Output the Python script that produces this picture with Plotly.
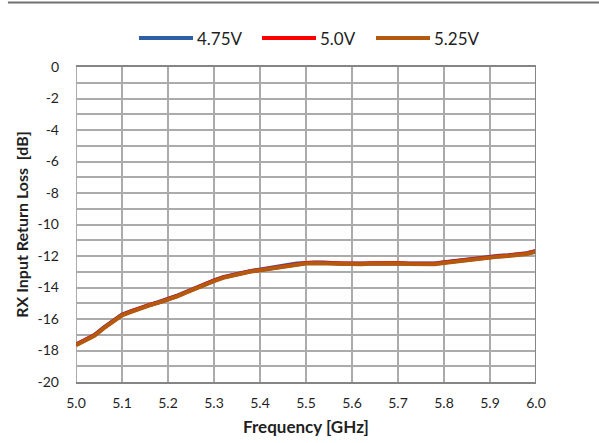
import plotly.graph_objects as go

# Frequency sweep (GHz)
freq = [5.00, 5.02, 5.04, 5.06, 5.08, 5.10, 5.12, 5.14, 5.16, 5.18,
        5.20, 5.22, 5.24, 5.26, 5.28, 5.30, 5.32, 5.34, 5.36, 5.38,
        5.40, 5.42, 5.44, 5.46, 5.48, 5.50, 5.52, 5.54, 5.56, 5.58,
        5.60, 5.62, 5.64, 5.66, 5.68, 5.70, 5.72, 5.74, 5.76, 5.78,
        5.80, 5.82, 5.84, 5.86, 5.88, 5.90, 5.92, 5.94, 5.96, 5.98, 6.00]

# RX input return loss (dB) per supply voltage
rl_475 = [-17.62, -17.35, -17.02, -16.55, -16.12, -15.72, -15.50, -15.28, -15.10, -14.92,
          -14.74, -14.52, -14.27, -14.02, -13.80, -13.54, -13.35, -13.19, -13.07, -12.95,
          -12.87, -12.77, -12.67, -12.57, -12.47, -12.42, -12.41, -12.42, -12.46, -12.49,
          -12.47, -12.47, -12.44, -12.42, -12.44, -12.42, -12.45, -12.47, -12.47, -12.47,
          -12.39, -12.32, -12.24, -12.15, -12.09, -12.05, -11.99, -11.95, -11.89, -11.82, -11.68]
rl_50 = [-17.64, -17.37, -17.04, -16.57, -16.15, -15.74, -15.52, -15.30, -15.11, -14.94,
         -14.76, -14.54, -14.29, -14.04, -13.81, -13.56, -13.36, -13.21, -13.09, -12.97,
         -12.89, -12.79, -12.69, -12.59, -12.49, -12.44, -12.43, -12.44, -12.47, -12.51,
         -12.49, -12.49, -12.46, -12.44, -12.46, -12.44, -12.47, -12.49, -12.49, -12.49,
         -12.41, -12.34, -12.26, -12.17, -12.11, -12.07, -12.01, -11.97, -11.91, -11.84, -11.69]
rl_525 = [-17.66, -17.39, -17.06, -16.60, -16.18, -15.77, -15.55, -15.33, -15.13, -14.96,
          -14.79, -14.56, -14.31, -14.06, -13.84, -13.59, -13.39, -13.24, -13.11, -12.99,
          -12.91, -12.81, -12.71, -12.61, -12.52, -12.47, -12.46, -12.47, -12.50, -12.54,
          -12.52, -12.52, -12.49, -12.47, -12.49, -12.47, -12.50, -12.52, -12.52, -12.52,
          -12.44, -12.37, -12.29, -12.20, -12.14, -12.10, -12.04, -12.00, -11.94, -11.87, -11.72]

series_names = ["4.75V", "5.0V", "5.25V"]
series_values = [rl_475, rl_50, rl_525]
series_colors = ["#2e5fa3", "#ff0000", "#b35a0e"]

x_ticks = [5.0, 5.1, 5.2, 5.3, 5.4, 5.5, 5.6, 5.7, 5.8, 5.9, 6.0]
x_labels = ["5.0", "5.1", "5.2", "5.3", "5.4", "5.5", "5.6", "5.7", "5.8", "5.9", "6.0"]
y_ticks = [0, -2, -4, -6, -8, -10, -12, -14, -16, -18, -20]
y_labels = ["0", "-2", "-4", "-6", "-8", "-10", "-12", "-14", "-16", "-18", "-20"]

FONT = "Lato"
TXT = "#1f1f1f"
grid_col = "#ababab"
axis_col = "#858585"

fig = go.Figure()
for name, vals, col in zip(series_names, series_values, series_colors):
    fig.add_trace(go.Scatter(x=freq, y=vals, mode="lines", name=name,
                             showlegend=False, line=dict(color=col, width=4)))

fig.update_layout(
    width=599, height=443,
    margin=dict(l=76, r=63, t=67, b=61),
    paper_bgcolor="white", plot_bgcolor="white",
    font=dict(family=FONT, size=14, color=TXT),
    showlegend=False,
    xaxis=dict(range=[5.0, 6.0], tickvals=x_ticks, ticktext=x_labels,
               automargin=False,
               showgrid=True, gridcolor=grid_col, gridwidth=2,
               showline=True, mirror=True, linecolor=axis_col, linewidth=2,
               ticks="", zeroline=False, ticklabelstandoff=7,
               title=dict(text="<b>Frequency [GHz]</b>", standoff=11,
                          font=dict(family=FONT, size=17, color=TXT)),
               tickfont=dict(family=FONT, size=14, color=TXT)),
    yaxis=dict(range=[-20, 0], tickvals=y_ticks, ticktext=y_labels,
               automargin=False,
               showgrid=True, gridcolor=grid_col, gridwidth=2,
               minor=dict(dtick=1, showgrid=True, gridcolor=grid_col, gridwidth=2),
               showline=False, ticks="", zeroline=False, ticklabelstandoff=16,
               title=dict(text="<b>RX Input Return Loss  [dB]</b>", standoff=4,
                          font=dict(family=FONT, size=16, color=TXT)),
               tickfont=dict(family=FONT, size=14, color=TXT)),
)

# Left gridline-coloured edge and dark right edge of the plot area
fig.add_shape(type="line", xref="x", yref="y", x0=5.0, x1=5.0, y0=-20, y1=0,
              line=dict(color=grid_col, width=2), layer="below")
fig.add_shape(type="line", xref="x", yref="y", x0=6.0, x1=6.0, y0=-20, y1=0,
              line=dict(color=axis_col, width=2), layer="above")

# Rule across the top of the page (pixel offsets from the plot area)
fig.add_shape(type="line", xref="paper", yref="paper", x0=-0.148, x1=1.14,
              y0=64.5, y1=64.5, ysizemode="pixel", yanchor=1.0,
              line=dict(color="#707070", width=2))

# Legend drawn as line swatches with labels above the plot
legend_x = [139, 262, 376]          # swatch start, px from the left edge
for name, col, px in zip(series_names, series_colors, legend_x):
    x0 = (px - 76) / 460
    x1 = (px + 54 - 76) / 460
    fig.add_shape(type="line", xref="paper", yref="paper", x0=x0, x1=x1,
                  y0=(382 - 38) / 315, y1=(382 - 38) / 315,
                  line=dict(color=col, width=4))
    fig.add_annotation(xref="paper", yref="paper", x=x1 + 2 / 460, y=(382 - 38) / 315,
                       text=name, showarrow=False, xanchor="left", yanchor="middle",
                       font=dict(family=FONT, size=17, color=TXT))

fig.write_html("out.html")
